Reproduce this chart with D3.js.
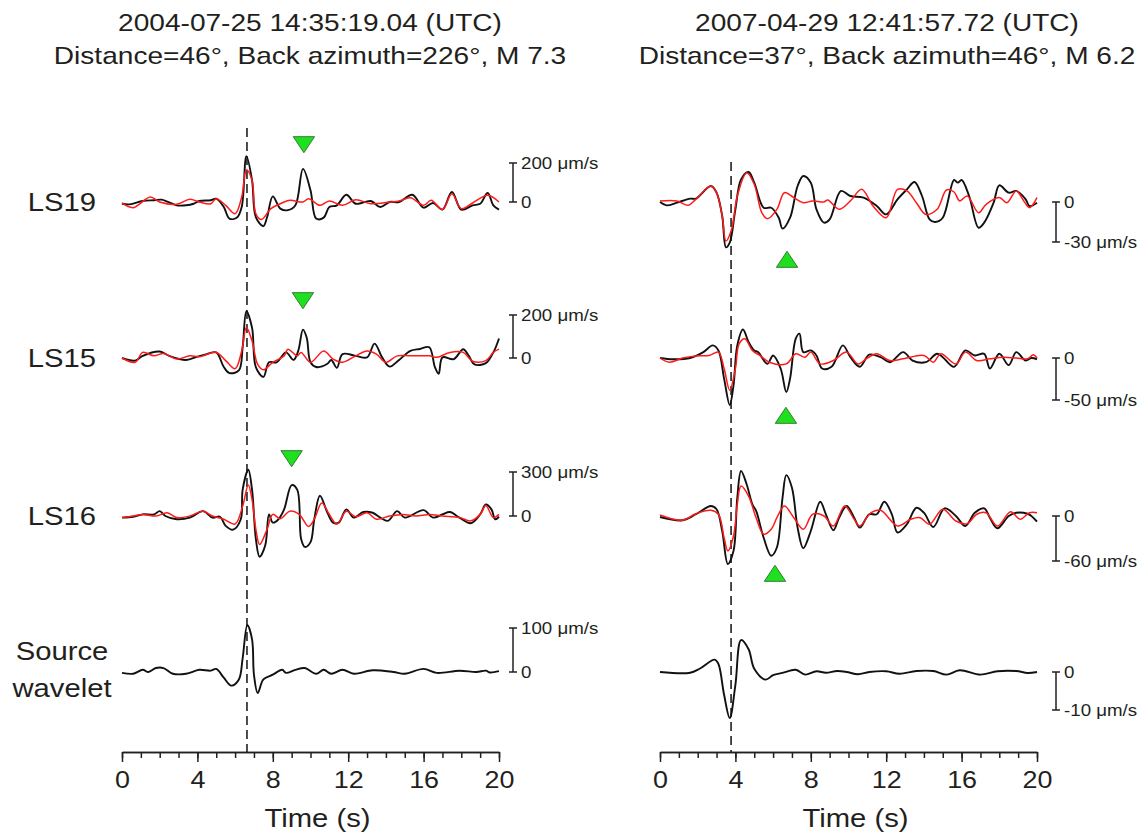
<!DOCTYPE html>
<html>
<head>
<meta charset="utf-8">
<script src="https://cdnjs.cloudflare.com/ajax/libs/d3/7.8.5/d3.min.js"></script>
<style>
body { margin: 0; background: #fff; }
svg { display: block; font-family: "Liberation Sans", Arial, sans-serif; }
</style>
</head>
<body>
<div id="plot"></div>
<script>
"use strict";

// ---- data: [time (s), velocity (um/s)] ----
const stations = ["LS19", "LS15", "LS16"];
const leftTitle = ["2004-07-25 14:35:19.04 (UTC)", "Distance=46\u00b0, Back azimuth=226\u00b0, M 7.3"];
const rightTitle = ["2007-04-29 12:41:57.72 (UTC)", "Distance=37\u00b0, Back azimuth=46\u00b0, M 6.2"];
const majorTicks = [0, 4, 8, 12, 16, 20];
const minorTicks = [0, 1, 2, 3, 4, 5, 6, 7, 8, 9, 10, 11, 12, 13, 14, 15, 16, 17, 18, 19, 20];
const leftBars = [200, 200, 300, 100];
const rightBars = [-30, -50, -60, -10];
const leftPick = 6.63;
const rightPick = 3.77;
const leftMarks = [9.65, 9.6, 9.0];
const rightMarks = [6.74, 6.68, 6.1];

const leftLS19Obs = [[0,-9],[0.4,-12],[1.1,5],[1.7,9],[2.1,12],[2.4,2],[2.9,-17],[3.4,-17],[3.8,-9],[4.1,5],[4.7,9],[5.0,17],[5.4,-26],[5.7,-85],[6.1,-80],[6.35,-26],[6.6,235],[6.9,111],[7.1,-77],[7.5,-124],[7.7,-77],[8.0,29],[8.4,-34],[8.8,-42],[9.2,-17],[9.6,170],[10.0,60],[10.3,-85],[10.7,-80],[11.0,-26],[11.4,-17],[11.9,37],[12.4,-9],[13.2,5],[13.7,-26],[14.2,0],[14.7,0],[15.4,37],[16.0,-29],[16.5,-5],[17.0,-39],[17.5,51],[18.0,-39],[18.6,-17],[19.0,-9],[19.4,46],[19.7,-17],[20.0,-39]];
const leftLS19Syn = [[0,-5],[0.6,-29],[1.5,26],[2.0,0],[2.9,-12],[3.6,14],[4.1,0],[4.7,-9],[5.0,17],[5.5,-17],[6.0,-60],[6.35,26],[6.6,165],[6.9,111],[7.1,-60],[7.4,-90],[7.9,-34],[8.4,-9],[8.9,9],[9.6,0],[9.9,17],[10.5,-17],[11.0,5],[11.7,-17],[12.4,12],[13.2,-9],[14.2,0],[14.7,5],[15.3,22],[16.0,-17],[16.4,9],[17.0,-39],[17.5,42],[18.0,-34],[18.6,-5],[19.4,34],[20.0,0]];
const leftLS15Obs = [[0,0],[0.7,-12],[1.1,10],[2.0,30],[2.5,10],[3.4,-9],[4.0,6],[4.5,18],[5.0,26],[5.4,-42],[5.7,-70],[6.2,-58],[6.4,49],[6.6,218],[6.9,140],[7.1,-42],[7.5,-88],[7.8,-20],[8.2,-20],[8.7,26],[9.1,-9],[9.35,33],[9.6,132],[9.8,94],[10.0,-20],[10.3,-42],[10.9,-27],[11.1,-9],[11.4,-46],[11.7,18],[12.4,10],[13.0,3],[13.4,67],[13.8,3],[14.2,-40],[14.7,-9],[15.3,33],[15.8,42],[16.3,50],[16.6,-42],[16.8,-73],[17.0,3],[17.6,-5],[18.1,41],[18.4,10],[18.7,-30],[19.3,-24],[19.7,26],[20.0,91]];
const leftLS15Syn = [[0,0],[0.7,-20],[1.1,26],[1.7,10],[2.2,21],[2.9,-5],[3.6,10],[4.1,6],[5.0,26],[5.5,-12],[6.0,-50],[6.35,33],[6.6,142],[6.9,79],[7.2,-30],[7.5,-55],[8.0,-20],[8.6,10],[8.8,41],[9.3,10],[9.5,26],[10.0,-20],[10.7,33],[11.2,-5],[11.7,-20],[12.4,10],[13.0,33],[13.5,18],[14.0,-20],[14.6,10],[15.3,10],[16.3,10],[16.7,3],[17.4,26],[18.1,26],[18.6,-15],[19.3,-12],[19.7,26],[20.0,41]];
const leftLS16Obs = [[0,-11],[0.6,-5],[1.1,11],[1.7,11],[2.0,33],[2.3,0],[2.9,-22],[3.6,-11],[4.3,33],[4.8,-11],[5.2,-5],[5.5,-67],[5.9,-93],[6.3,-22],[6.4,178],[6.7,315],[6.9,178],[7.1,-155],[7.3,-278],[7.6,-200],[7.8,11],[8.0,-45],[8.3,-22],[8.6,45],[9.0,211],[9.3,178],[9.5,-155],[9.7,-211],[10.0,-178],[10.2,-22],[10.5,138],[10.9,22],[11.2,-45],[11.5,-45],[11.9,45],[12.3,-11],[12.8,27],[13.3,22],[13.7,-11],[14.1,-33],[14.6,33],[15.0,-11],[16.0,40],[16.5,-11],[17.0,11],[17.4,27],[17.9,-11],[18.5,-49],[19.0,11],[19.3,78],[19.6,45],[19.8,-22],[20.0,-5]];
const leftLS16Syn = [[0,-11],[0.6,0],[1.1,11],[1.8,0],[2.4,22],[2.9,-11],[3.6,0],[4.3,33],[4.8,0],[5.4,-22],[6.0,-55],[6.4,67],[6.7,211],[6.9,111],[7.1,-89],[7.3,-195],[7.7,-89],[8.0,11],[8.4,-18],[8.9,33],[9.4,11],[9.9,-71],[10.2,-22],[10.6,89],[11.0,11],[11.4,-55],[11.9,33],[12.4,-5],[13.0,22],[13.5,-22],[14.2,0],[14.9,11],[15.6,0],[16.3,11],[17.0,0],[17.9,-11],[18.5,-33],[19.0,11],[19.3,71],[19.7,-11],[20.0,11]];
const leftSource = [[0,-2],[0.6,-4],[1.1,5],[1.4,0],[1.8,9],[2.2,9],[2.7,-4],[3.4,-4],[4.1,5],[4.7,3],[5.0,7],[5.4,-13],[5.8,-31],[6.2,-17],[6.4,31],[6.65,107],[6.9,74],[7.0,-6],[7.2,-48],[7.5,-17],[8.0,-6],[8.5,5],[8.7,-2],[9.2,5],[9.7,9],[10.3,-4],[10.7,5],[11.1,-4],[11.7,5],[12.3,-4],[13.3,4],[14.4,0],[15.0,-4],[16.0,7],[16.7,-2],[17.9,3],[18.8,0],[19.3,3],[19.5,-1],[20.0,2]];

const rightLS19Obs = [[0,0],[0.35,-2.5],[0.9,-0.5],[1.6,2.5],[1.9,2.5],[2.7,12],[3.0,7],[3.3,-10.5],[3.5,-34],[3.7,-30.5],[4.0,-5.5],[4.3,17],[4.7,22.5],[5.0,14.5],[5.5,-4.3],[5.9,-4.3],[6.3,-11.8],[6.5,-20],[6.9,-11.8],[7.3,12],[7.6,19.5],[8.0,14.5],[8.3,-5.5],[8.7,-15.5],[9.0,-13],[9.6,8.3],[10.1,4.5],[10.8,3.3],[11.5,-3],[12.0,-9.3],[12.6,2],[13.1,9.5],[13.5,15],[13.9,4.5],[14.3,-13],[14.6,-15],[15.0,-11.8],[15.6,16.5],[15.8,14.5],[16.0,16.5],[16.4,4.5],[16.9,-19.3],[17.2,-15.5],[17.7,-0.5],[18.0,12.5],[18.5,7],[18.9,8.3],[19.4,2],[19.6,-3],[20.0,-0.5]];
const rightLS19Syn = [[0,0.8],[0.9,0.8],[1.5,-2.5],[1.9,2],[2.7,12],[3.0,7],[3.3,-10.5],[3.5,-29.3],[3.8,-20.5],[4.1,4.5],[4.6,22],[5.0,13.3],[5.4,-8],[5.7,-12.5],[6.2,-5.5],[6.6,7],[7.1,3.3],[7.6,-0.5],[8.1,0.8],[8.7,0],[8.9,1.5],[9.5,-5.5],[10.1,0.8],[10.7,9.5],[11.3,-3],[12.0,-11.8],[12.6,9.5],[13.1,8.3],[13.6,-0.5],[14.1,-9.3],[14.7,-5.5],[15.2,9],[15.6,7.5],[15.9,0.8],[16.3,4.5],[16.9,-8],[17.3,-1.8],[18.0,3.3],[18.4,-0.5],[18.9,8.3],[19.3,0.8],[19.6,-4.3],[20.0,3.3]];
const rightLS15Obs = [[0,0],[0.7,-1.5],[1.6,0],[2.3,7],[2.8,15],[3.1,9],[3.4,-24.5],[3.7,-56],[3.9,-32.5],[4.1,15],[4.4,34],[4.7,19],[5.0,9],[5.2,7],[5.7,-7],[6.0,3],[6.4,-12.5],[6.7,-40.5],[6.9,-24.5],[7.2,23],[7.4,29],[7.6,7],[8.0,9],[8.3,3],[8.6,-12.5],[9.1,-10.5],[9.7,15],[10.1,1],[10.6,-10.5],[11.1,4],[11.7,1],[12.2,-5],[12.9,7],[13.4,-3],[14.1,-5],[14.7,5],[15.0,1],[15.6,-10.5],[16.2,9],[16.7,3],[17.2,5],[17.5,-12.5],[18.0,5],[18.5,-8.5],[18.9,7],[19.4,-3],[19.7,0],[20.0,-1.5]];
const rightLS15Syn = [[0,0],[0.5,-5],[1.2,0],[1.9,2.5],[2.6,3],[3.1,7],[3.4,-12.5],[3.7,-38.5],[4.0,-12.5],[4.2,17],[4.5,23],[4.9,9],[5.3,3],[5.8,-5],[6.7,-7],[7.2,5],[7.7,1],[8.0,7],[8.5,-7],[9.2,-3],[9.9,7],[10.5,-7],[11.0,0],[11.5,5],[12.2,-3],[12.9,-1],[14.0,3],[14.5,-5],[14.9,5],[15.7,-7],[16.2,7],[16.8,-3],[17.5,-1],[18.2,1],[18.9,0],[19.5,-1],[19.8,4],[20.0,0]];
const rightLS16Obs = [[0,-1.3],[1.2,-5.7],[1.9,2.3],[2.7,13.3],[3.0,9],[3.3,-20],[3.6,-64],[3.9,-46.5],[4.1,24.3],[4.3,60],[4.6,42],[4.9,15.5],[5.1,6.7],[5.5,-29],[5.9,-53],[6.2,-42],[6.5,24.3],[6.7,54.5],[7.0,37.7],[7.3,-15.5],[7.6,-43],[8.0,-20],[8.5,19],[8.8,2.3],[9.2,-19],[9.5,-2.3],[9.9,13.3],[10.3,-2.3],[10.6,-15.5],[11.1,2.3],[11.5,2.3],[11.9,19],[12.3,2.3],[12.6,-22],[13.1,-11],[13.6,11],[14.0,4.4],[14.5,-14.6],[15.1,10.2],[15.7,0],[16.2,-13.3],[16.7,4.4],[17.2,10.2],[17.5,-2.3],[17.9,-16.4],[18.5,0],[18.9,4.4],[19.5,3],[19.7,0],[20.0,-7.6]];
const rightLS16Syn = [[0,1.3],[1.2,-5.7],[1.9,3],[2.7,7.6],[3.1,2.3],[3.4,-29],[3.6,-46.5],[3.9,-26.6],[4.1,15.5],[4.3,40],[4.7,26.6],[5.1,-2.3],[5.5,-24.3],[5.9,-17.7],[6.2,-2.3],[6.6,13.3],[7.1,-2.3],[7.6,-17.7],[8.1,2.3],[8.7,0],[9.2,-13.3],[9.8,13.3],[10.3,-4.4],[10.6,-13.3],[11.2,4.4],[11.7,7.6],[12.6,-13.3],[13.3,-4.4],[13.8,-2.3],[14.3,-11],[15.0,9],[15.7,-6.7],[16.3,-10.2],[16.8,2.3],[17.3,4.4],[17.9,-13.3],[18.6,5.7],[19.1,-4.4],[19.6,4.4],[20.0,4.4]];
const rightSource = [[0,0],[1.6,-0.2],[2.1,0.85],[2.9,3.25],[3.1,2.1],[3.4,-6],[3.7,-12.1],[4.0,-3.4],[4.3,8.4],[4.7,6],[5.0,0.85],[5.6,-2],[6.0,-0.85],[6.5,-0.25],[7.2,0.6],[7.7,-0.7],[8.3,0.2],[8.8,-0.2],[9.4,0.25],[9.9,0],[10.5,-0.6],[11.1,0],[12.0,0.2],[12.7,-0.45],[13.6,0.25],[14.5,0.25],[15.2,-0.7],[15.9,0.45],[17.0,-0.7],[17.9,0.2],[18.9,0.25],[19.5,-0.25],[20.0,0]];

// ---- layout ----
const msm = {
    width: 1144,
    height: 838,
    axisY: 752,
    stretch: 1.17,
    baselines: [202, 358, 516, 672],
    ink: "#231f20"
};

const panels = [
    {
        x0: 122, x1: 499, titleX: 310, dashTop: 128,
        obs: [leftLS19Obs, leftLS15Obs, leftLS16Obs], syn: [leftLS19Syn, leftLS15Syn, leftLS16Syn],
        source: leftSource, bars: leftBars, barPx: [39, 43, 44, 44], barX: 513,
        pick: leftPick, marks: leftMarks, markDir: -1, title: leftTitle
    },
    {
        x0: 660, x1: 1037, titleX: 887, dashTop: 162,
        obs: [rightLS19Obs, rightLS15Obs, rightLS16Obs], syn: [rightLS19Syn, rightLS15Syn, rightLS16Syn],
        source: rightSource, bars: rightBars, barPx: [40, 42, 45, 38], barX: 1056,
        pick: rightPick, marks: rightMarks, markDir: 1, title: rightTitle
    }
];

const svg = d3.select("#plot").append("svg")
    .attr("width", msm.width)
    .attr("height", msm.height);

// text drawn with the slight horizontal stretch of the original figure
function stext(x, y, str, size, anchor) {
    return svg.append("g")
        .attr("transform", "translate(" + x + "," + y + ") scale(" + msm.stretch + ",1)")
        .append("text")
        .attr("text-anchor", anchor || "middle")
        .style("font-size", size + "px")
        .attr("fill", msm.ink)
        .text(str);
}

// row labels
stations.forEach((s, i) => stext(62, msm.baselines[i] + 9, s, 25));
stext(62, 660, "Source", 25);
stext(62, 697, "wavelet", 25);

panels.forEach(p => {
    let x = d3.scaleLinear().domain([0, 20]).range([p.x0, p.x1]);

    stext(p.titleX, 31, p.title[0], 24);
    stext(p.titleX, 64, p.title[1], 24);

    // pick line
    svg.append("line")
        .attr("x1", x(p.pick)).attr("x2", x(p.pick))
        .attr("y1", p.dashTop).attr("y2", msm.axisY)
        .attr("stroke", "#111").attr("stroke-width", 1.5)
        .attr("stroke-dasharray", "9,5");

    // one y scale per row, set by the scale bar
    let yScales = msm.baselines.map((b, i) =>
        d3.scaleLinear().domain([0, p.bars[i]]).range([b, b - Math.sign(p.bars[i]) * p.barPx[i]]));

    let traces = [];
    p.obs.forEach((d, i) => traces.push({ data: d, y: yScales[i], color: "#111", w: 1.9 }));
    traces.push({ data: p.source, y: yScales[3], color: "#111", w: 1.9 });
    p.syn.forEach((d, i) => traces.push({ data: d, y: yScales[i], color: "#ff1a1a", w: 1.5 }));

    traces.forEach(tr => {
        let line = d3.line()
            .x(d => x(d[0]))
            .y(d => tr.y(d[1]))
            .curve(d3.curveCatmullRom.alpha(0.5));
        svg.append("path")
            .attr("d", line(tr.data))
            .attr("fill", "none")
            .attr("stroke", tr.color)
            .attr("stroke-width", tr.w)
            .attr("stroke-linejoin", "round");
    });

    // scale bars
    yScales.forEach((y, i) => {
        let v = p.bars[i];
        let g = svg.append("g").attr("stroke", msm.ink).attr("stroke-width", 1.5);
        g.append("line").attr("x1", p.barX).attr("x2", p.barX).attr("y1", y(0)).attr("y2", y(v));
        [0, v].forEach(val => {
            g.append("line").attr("x1", p.barX - 4).attr("x2", p.barX + 4).attr("y1", y(val)).attr("y2", y(val));
        });
        stext(p.barX + 8, y(0) + 6, "0", 16, "start");
        stext(p.barX + 8, y(v) + 6, v + " \u03bcm/s", 16, "start");
    });

    // green arrival markers
    let tri = d3.symbol().type(d3.symbolTriangle).size(150);
    p.marks.forEach((t, i) => {
        let cy = msm.baselines[i] + p.markDir * 60;
        svg.append("path")
            .attr("d", tri())
            .attr("transform", "translate(" + x(t) + "," + cy + ") rotate(" + (p.markDir < 0 ? 180 : 0) + ") scale(1.15,1)")
            .attr("fill", "#1fe01f")
            .attr("stroke", "#2b6b2b")
            .attr("stroke-width", 0.8);
    });

    // time axis
    let minor = d3.axisBottom(x).tickValues(minorTicks).tickSize(6).tickSizeOuter(0).tickFormat("");
    let major = d3.axisBottom(x).tickValues(majorTicks).tickSize(10).tickSizeOuter(0).tickPadding(10);
    let gMinor = svg.append("g").attr("transform", "translate(0," + msm.axisY + ")").call(minor);
    let gMajor = svg.append("g").attr("transform", "translate(0," + msm.axisY + ")").call(major);
    [gMinor, gMajor].forEach(g => {
        g.selectAll("path, line").attr("stroke", msm.ink).attr("stroke-width", 1.5);
    });
    gMajor.selectAll("text")
        .attr("fill", msm.ink)
        .style("font-size", "23px")
        .style("font-family", "'Liberation Sans', Arial, sans-serif")
        .attr("transform", "scale(" + msm.stretch + ",1)");

    stext((p.x0 + p.x1) / 2 + 7, 827, "Time (s)", 25);
});
</script>
</body>
</html>
